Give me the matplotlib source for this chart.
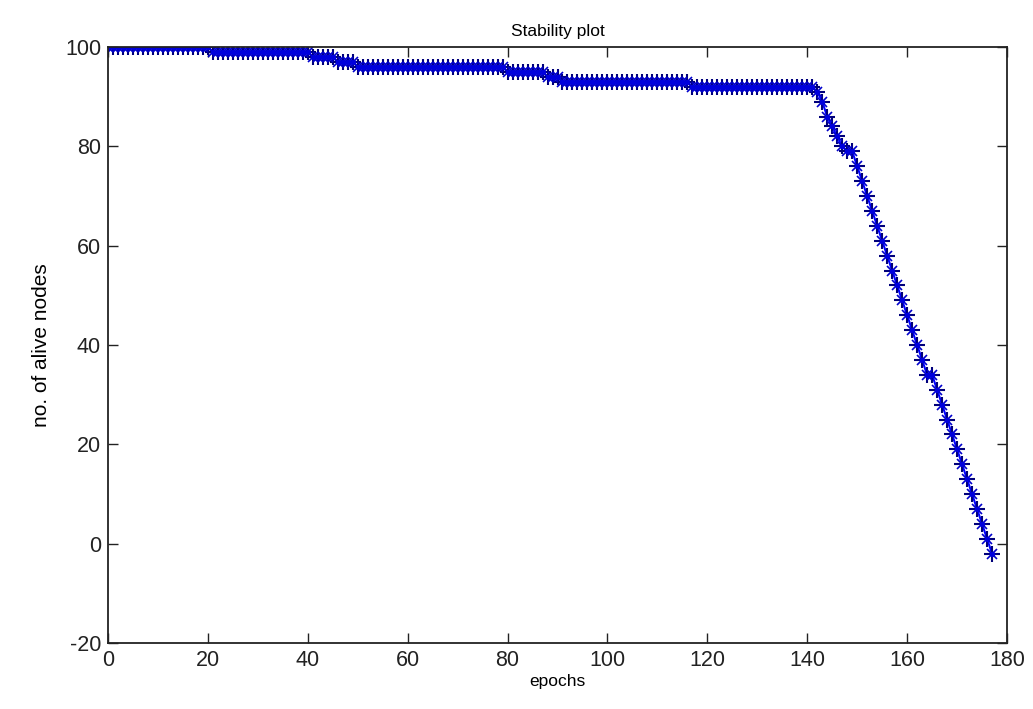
import matplotlib
matplotlib.use("Agg")
import matplotlib.pyplot as plt

plt.rcParams["font.family"] = ["Liberation Sans", "DejaVu Sans"]
plt.rcParams["axes.unicode_minus"] = False

# plateau levels (start epoch, end epoch, alive nodes)
plateaus = [
    (0, 20, 100),
    (21, 40, 99),
    (41, 45, 98),
    (46, 49, 97),
    (50, 79, 96),
    (80, 87, 95),
    (88, 90, 94),
    (91, 116, 93),
    (117, 141, 92),
]

# steep decline, epochs 142..177
drop_epochs = list(range(142, 178))
drop_alive = [91, 89, 86, 84, 82, 80, 79, 79, 76, 73, 70, 67, 64, 61, 58, 55, 52,
              49, 46, 43, 40, 37, 34, 34, 31, 28, 25, 22, 19, 16, 13, 10, 7, 4, 1, -2]

epochs = []
alive = []
for start, end, level in plateaus:
    for e in range(start, end + 1):
        epochs.append(e)
        alive.append(level)
epochs += drop_epochs
alive += drop_alive

fig = plt.figure(figsize=(10.33, 7.09), dpi=100)
ax = fig.add_axes([108 / 1033, 66 / 709, 899 / 1033, 596 / 709])

# MATLAB-style '*' marker: long plus arms with short diagonal arms
ax.plot(epochs, alive, color="#0000ff", linewidth=1.5)
ax.plot(epochs, alive, linestyle="none", marker="+", markersize=12,
        markeredgewidth=1.5, markeredgecolor="#00007a")
ax.plot(epochs, alive, linestyle="none", marker="x", markersize=6.5,
        markeredgewidth=1.2, markeredgecolor="#0000cc")
ax.plot(epochs, alive, linestyle="none", marker="o", markersize=4,
        markeredgewidth=0, markerfacecolor="#0000dd")

ax.set_xlim(0, 180)
ax.set_ylim(-20, 100)
ax.set_xticks(range(0, 181, 20))
ax.set_yticks(range(-20, 101, 20))
ax.tick_params(direction="in", length=7, width=1, top=True, right=True,
               labelsize=15.5, pad=5, colors="#222222")
for s in ax.spines.values():
    s.set_linewidth(1.3)
    s.set_color("#222222")

ax.set_title("Stability plot", fontsize=12.5, pad=8)
ax.set_xlabel("epochs", fontsize=12.5, labelpad=2)
ax.set_ylabel("no. of alive nodes", fontsize=15, labelpad=10)

fig.savefig("out.png", dpi=100)
